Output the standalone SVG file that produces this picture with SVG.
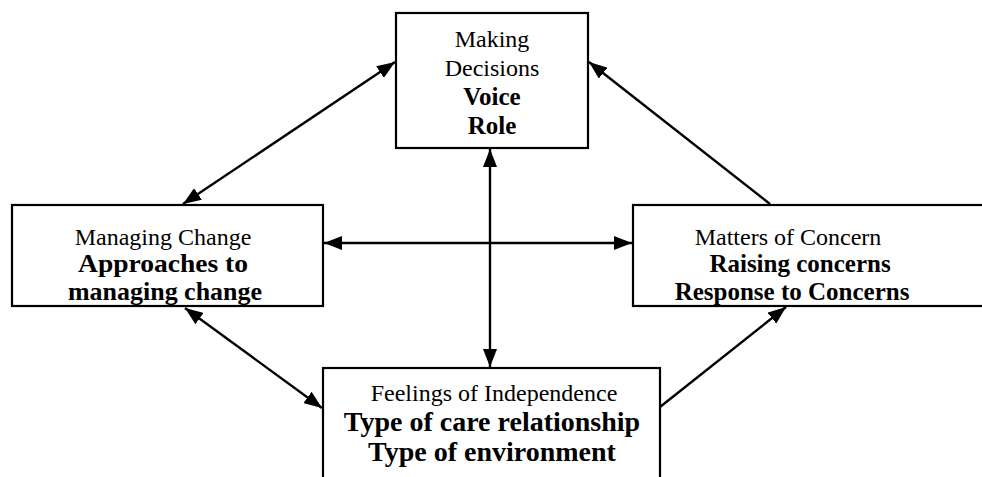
<svg xmlns="http://www.w3.org/2000/svg" width="982" height="477" viewBox="0 0 982 477">
<style>
.box{fill:#fff;stroke:#000;stroke-width:2.2}
.t{font-family:"Liberation Serif","Times New Roman",serif;font-size:24px;text-anchor:middle;fill:#000}
.b{font-weight:bold;font-size:25px}
.c{stroke:#000;stroke-width:2.4;fill:none}
</style>
<defs>
<marker id="ah" markerUnits="userSpaceOnUse" markerWidth="20" markerHeight="14" refX="18" refY="7" orient="auto-start-reverse">
<path d="M0,0 L18,7 L0,14 z" fill="#000"/>
</marker>
</defs>
<g id="connectors">
<line class="c" x1="183" y1="204" x2="395" y2="62" marker-start="url(#ah)" marker-end="url(#ah)"/>
<line class="c" x1="770" y1="204" x2="589" y2="62" marker-end="url(#ah)"/>
<line class="c" x1="324" y1="243" x2="632" y2="243" marker-start="url(#ah)" marker-end="url(#ah)"/>
<line class="c" x1="490" y1="149" x2="490" y2="367" marker-start="url(#ah)" marker-end="url(#ah)"/>
<line class="c" x1="185" y1="308" x2="322" y2="408" marker-start="url(#ah)" marker-end="url(#ah)"/>
<line class="c" x1="660" y1="407" x2="786" y2="307" marker-end="url(#ah)"/>
</g>
<g id="making-decisions">
<rect class="box" x="396" y="13" width="192" height="135"/>
<text class="t" x="492" y="47">Making</text>
<text class="t" x="492" y="76">Decisions</text>
<text class="t b" x="492" y="105">Voice</text>
<text class="t b" x="492" y="134">Role</text>
</g>
<g id="managing-change">
<rect class="box" x="12" y="205" width="311" height="101"/>
<text class="t" x="163" y="245">Managing Change</text>
<text class="t b" x="163" y="272" style="font-size:26px" textLength="170" lengthAdjust="spacingAndGlyphs">Approaches to</text>
<text class="t b" x="165" y="300" style="font-size:26px" textLength="194" lengthAdjust="spacingAndGlyphs">managing change</text>
</g>
<g id="matters-of-concern">
<rect class="box" x="633" y="205" width="360" height="101"/>
<text class="t" x="788" y="245">Matters of Concern</text>
<text class="t b" x="800" y="272">Raising concerns</text>
<text class="t b" x="792" y="300">Response to Concerns</text>
</g>
<g id="feelings-of-independence">
<rect class="box" x="323" y="368" width="337" height="120"/>
<text class="t" x="494" y="401">Feelings of Independence</text>
<text class="t b" x="492" y="431" style="font-size:28px">Type of care relationship</text>
<text class="t b" x="492" y="461" style="font-size:28px">Type of environment</text>
</g>
</svg>
